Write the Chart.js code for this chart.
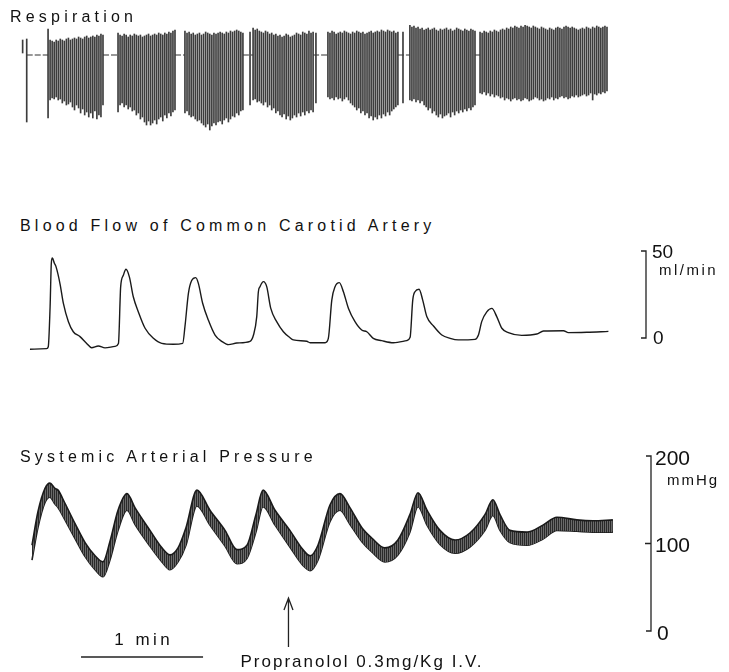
<!DOCTYPE html>
<html>
<head>
<meta charset="utf-8">
<script src="https://cdn.jsdelivr.net/npm/chart.js@4.4.0/dist/chart.umd.min.js"></script>
<style>
  body { margin: 0; background: #fff; }
  #page { position: relative; width: 729px; height: 672px; overflow: hidden;
          font-family: "Liberation Sans", Arial, sans-serif; color: #111; }
  canvas { position: absolute; left: 0; }
  .ttl { position: absolute; font-size: 16px; line-height: 16px; letter-spacing: 4.2px; white-space: nowrap; }
</style>
</head>
<body>
<div id="page">
  <canvas id="resp" width="729" height="140" style="top:0px"></canvas>
  <canvas id="flow" width="729" height="120" style="top:240px"></canvas>
  <canvas id="press" width="729" height="232" style="top:440px"></canvas>
  <div class="ttl" style="left:10px;top:9px">Respiration</div>
  <div class="ttl" style="left:20px;top:218px">Blood Flow of Common Carotid Artery</div>
  <div class="ttl" style="left:20px;top:449px">Systemic Arterial Pressure</div>
</div>
<script>
// time axis in seconds, whole record ~ 5 min
var timeMax = 295

// respiration: bursts of breaths, each stroke [top, bottom] in chart deflection units (0 = baseline)
var respStart = [13.8, 48.2, 81.1, 114.6, 151.4, 191.7, 226.2]
var respEnd   = [40.8, 76.2, 109.6, 144.1, 185.8, 223.7, 288.6]
var respTops = [
  [26,15,14,13,15,14,16,15,14,16,17,15,16,17,16,18,17,16,18,19,17,18,19,18,20,19,21,20],
  [22,20,19,21,20,18,20,19,21,20,19,20,18,19,20,21,19,20,21,20,22,21,20,22,21,23,22,24,25],
  [24,22,23,21,22,20,21,22,20,21,23,22,21,20,22,21,22,23,22,21,23,22,24,23,24,25,24,23,22],
  [27,25,26,24,23,22,24,23,21,22,20,21,19,20,18,19,21,20,18,19,20,22,21,20,23,22,21,24,22,23],
  [23,22,24,23,21,22,23,22,24,23,22,21,23,22,24,23,22,23,21,22,23,24,22,23,24,23,25,24,23,25,24,23,24,22,23],
  [30,28,29,27,28,26,27,25,26,27,25,26,27,25,24,26,25,26,27,25,26,24,25,27,26,25,24,26,25,24,26,25,24],
  [23,22,24,23,22,24,23,25,24,23,25,26,25,27,26,28,27,29,28,27,29,28,30,29,28,27,29,28,27,26,28,27,26,25,27,26,25,27,28,27,26,28,29,28,27,28,27,26,25,26,27,26,28,27,26,28,27,29,28,27,28,29,28]
]
var respBottoms = [
  [-63,-45,-43,-44,-42,-45,-44,-48,-46,-50,-49,-47,-52,-55,-50,-53,-58,-54,-60,-57,-62,-58,-63,-56,-64,-60,-62,-50],
  [-57,-50,-48,-52,-50,-54,-52,-56,-55,-60,-58,-64,-62,-67,-70,-66,-70,-68,-65,-69,-64,-62,-66,-60,-63,-58,-61,-57,-55],
  [-58,-56,-60,-62,-61,-64,-66,-65,-68,-70,-72,-69,-75,-71,-68,-70,-67,-66,-69,-65,-63,-67,-64,-61,-62,-58,-60,-56,-55],
  [-45,-44,-47,-46,-48,-50,-47,-52,-50,-55,-53,-58,-56,-60,-62,-59,-64,-61,-65,-63,-60,-62,-58,-61,-57,-60,-56,-58,-55,-57],
  [-42,-44,-43,-45,-42,-44,-43,-46,-44,-42,-45,-48,-50,-52,-55,-53,-58,-56,-60,-58,-63,-61,-65,-62,-64,-60,-63,-59,-61,-57,-60,-56,-54,-52,-50],
  [-45,-46,-44,-47,-45,-48,-46,-50,-52,-55,-53,-58,-56,-60,-62,-59,-63,-61,-60,-58,-62,-57,-60,-56,-58,-55,-57,-54,-56,-53,-55,-52,-50],
  [-38,-39,-37,-40,-38,-41,-39,-42,-40,-41,-43,-42,-45,-43,-44,-46,-44,-43,-45,-44,-46,-45,-43,-44,-46,-45,-44,-42,-43,-45,-44,-46,-45,-43,-44,-42,-45,-43,-44,-42,-41,-43,-42,-44,-43,-41,-42,-40,-42,-41,-40,-39,-41,-40,-38,-45,-39,-40,-38,-39,-37,-38,-36]
]
// isolated breaths between bursts: [time, top, bottom]
var respSingles = [[1.3, 15, 2], [3.3, 16, -67], [113.1, 23, -50], [145.5, 22, -48], [188.3, 23, -48]]

// carotid blood flow, ml/min
var flowTime = [4.9,13.1,13.9,14.8,15.4,15.9,16.9,17.7,19.7,21.3,23.8,26.2,29.5,32.8,35.2,38.5,41.8,46.7,
  48.4,49.5,50.8,52.1,53.8,55.7,58.2,61.5,65.6,69.7,75.4,80.0,81.1,82.8,84.4,86.4,87.7,89.8,92.6,95.9,
  99.2,102.5,106.6,113.1,114.8,116.4,117.2,118.0,119.7,121.3,123.3,126.2,129.5,132.5,134.4,141.0,142.6,
  150.0,151.6,153.3,154.9,157.0,159.0,161.5,164.7,168.0,170.5,173.7,177.8,183.6,190.1,191.8,193.1,194.2,
  196.2,198.0,200.0,203.3,207.4,211.5,215.5,223.7,225.4,227.0,229.5,232.0,234.4,236.9,240.1,246.7,254.1,
  257.4,267.2,269.6,278.7,289.3]
var flowValue = [-6.5,-6.1,-5,18,43,46,43,41,31,20,9.4,3.6,0.8,-3.1,-5.6,-4.6,-5.7,-4.8,
  -3.1,29.5,36,39.5,35,23.7,15,5.6,-0.2,-3.1,-3.6,-3.1,6.5,25.7,33,34.7,31.4,20,10.3,1.7,
  -1.9,-3.8,-2.9,-1.9,1.7,12.3,26.6,29.5,32.4,29.5,17,9.4,3.6,0.4,-1.1,-1.9,-2.7,
  -2.7,-0.2,21.8,29.5,31.8,26.6,17,9.4,4.6,3.6,-0.2,-1.5,-2.7,-1.5,0.4,21.8,26.6,
  28,21.8,12.3,6.9,1.7,-0.2,-1.1,-0.8,1.7,9.4,15,17,12.3,5.6,3.1,1.5,2.3,
  4,4.2,3.1,3.3,3.8]

// systemic arterial pressure band, mmHg (upper and lower edge of trace)
var pressTime = [5.9,8.8,12.3,14.7,17.2,18.7,22.1,27.0,32.0,36.9,40.8,44.2,48.2,52.6,56.5,63.9,69.8,73.7,77.7,81.6,
  87.0,93.4,100.8,106.7,111.6,116.0,119.5,125.4,132.7,139.1,142.6,146.5,152.4,157.3,162.2,168.1,173.1,179.4,185.8,191.7,
  195.7,200.1,206.5,213.9,221.2,228.6,232.5,236.0,240.9,249.3,257.1,264.0,273.8,281.7,291.5]
var pressHigh = [98,136,163,169,163,161,146,123,101,86,79,102,138,157,141,115,95,87,95,118,
  161,138,115,93,98,133,161,138,115,93,86,98,144,157,141,118,106,95,104,133,
  158,138,115,104,112,133,150,133,115,113,121,130,127,126,127]
var pressLow = [81,118,147,153,145,141,127,106,85,70,62,81,115,138,122,97,79,70,79,98,
  143,121,97,77,83,113,142,121,96,75,69,81,125,138,122,102,90,79,87,113,
  142,121,99,89,96,115,132,115,101,98,105,115,114,113,113]

// calibration bars and markers
var flowCal = [0, 50]
var pressCal = [0, 100, 200]
var minuteBar = [30, 90]
var drugAt = 132

var FONT = '"Liberation Sans", Arial, sans-serif'

// build respiration strokes
var strokes = []
respStart.forEach(function(st, s){
  var n = respTops[s].length
  var step = (respEnd[s] - st) / (n - 1)
  for (var i = 0; i < n; i++) {
    strokes.push({x: st + i * step, y: [respBottoms[s][i], respTops[s][i]]})
  }
})
respSingles.forEach(function(r){ strokes.push({x: r[0], y: [r[2], r[1]]}) })

// baseline only visible in the pauses between bursts
var baseline = [{x: respSingles[1][0], y: 0}, {x: respStart[0], y: 0}]
for (var s = 1; s < respStart.length; s++) {
  baseline.push({x: (respEnd[s - 1] + respStart[s]) / 2, y: null})
  baseline.push({x: respEnd[s - 1], y: 0}, {x: respStart[s], y: 0})
}

function opts(ymin, ymax, padTop, padBottom) {
  return {
    responsive: false,
    animation: false,
    devicePixelRatio: 1,
    events: [],
    layout: { padding: { left: 20, right: 109, top: padTop, bottom: padBottom } },
    plugins: { legend: { display: false }, tooltip: { enabled: false } },
    scales: {
      x: { type: 'linear', min: 0, max: timeMax, display: false, offset: false },
      y: { type: 'linear', min: ymin, max: ymax, display: false }
    }
  }
}

// bracket scale bar on the right, drawn from the y scale
var calibPlugin = {
  id: 'calib',
  afterDraw: function(chart, args, o) {
    if (!o || !o.labels) return
    var ctx = chart.ctx, y = chart.scales.y, x = o.x
    var top = y.getPixelForValue(o.values[o.values.length - 1])
    var bot = y.getPixelForValue(o.values[0])
    ctx.save()
    ctx.strokeStyle = '#222'
    ctx.lineWidth = 1.3
    ctx.beginPath()
    ctx.moveTo(x - 5, top); ctx.lineTo(x, top); ctx.lineTo(x, bot); ctx.lineTo(x - 5, bot)
    o.values.slice(1, -1).forEach(function(v){
      var p = y.getPixelForValue(v); ctx.moveTo(x - 6, p); ctx.lineTo(x, p)
    })
    ctx.stroke()
    ctx.fillStyle = '#111'
    o.labels.forEach(function(l){
      ctx.font = l.size + 'px ' + FONT
      ctx.letterSpacing = (l.sp || 0) + 'px'
      ctx.fillText(l.text, x + l.dx, y.getPixelForValue(l.value) + l.dy)
    })
    ctx.restore()
  }
}

// 1 min bar and drug arrow, drawn from the x scale
var markerPlugin = {
  id: 'markers',
  afterDraw: function(chart, args, o) {
    if (!o || o.arrowAt == null) return
    var ctx = chart.ctx, xs = chart.scales.x, b = chart.chartArea.bottom
    ctx.save()
    ctx.strokeStyle = '#222'
    ctx.fillStyle = '#111'
    ctx.lineWidth = 1.5
    var x0 = xs.getPixelForValue(o.bar[0]), x1 = xs.getPixelForValue(o.bar[1])
    ctx.beginPath(); ctx.moveTo(x0, b + 26); ctx.lineTo(x1, b + 26); ctx.stroke()
    ctx.font = '17px ' + FONT
    ctx.letterSpacing = '3.5px'
    var w = ctx.measureText(o.barLabel).width - 3.5
    ctx.fillText(o.barLabel, (x0 + x1) / 2 - w / 2, b + 14)
    var xa = xs.getPixelForValue(o.arrowAt)
    ctx.lineWidth = 1.3
    ctx.beginPath()
    ctx.moveTo(xa, b + 16); ctx.lineTo(xa, b - 33)
    ctx.moveTo(xa - 4.5, b - 21); ctx.lineTo(xa, b - 33); ctx.lineTo(xa + 4.5, b - 21)
    ctx.stroke()
    ctx.letterSpacing = '2px'
    ctx.fillText(o.arrowLabel, xa - 48, b + 36)
    ctx.restore()
  }
}

// respiration
var o1 = opts(-80, 30, 25, 5)
new Chart(document.getElementById('resp'), {
  type: 'bar',
  data: {
    datasets: [
      { type: 'bar', data: strokes, backgroundColor: '#3c3c3c', borderWidth: 0,
        barThickness: 1, grouped: false, order: 1 },
      { type: 'line', data: baseline, borderColor: '#333', spanGaps: false,
        borderWidth: 1.2, borderDash: [6, 2], pointRadius: 0, order: 2 }
    ]
  },
  options: o1
})

// blood flow
var o2 = opts(flowCal[0], flowCal[1], 11, 22)
o2.plugins.calib = {
  x: 646, values: flowCal,
  labels: [
    {text: '50', value: 50, dx: 6, dy: 7, size: 19},
    {text: 'ml/min', value: 50, dx: 13, dy: 24, size: 15, sp: 2.5},
    {text: '0', value: 0, dx: 7, dy: 6, size: 19}
  ]
}
new Chart(document.getElementById('flow'), {
  type: 'line',
  data: {
    datasets: [{
      data: flowTime.map(function(t, i){ return {x: t, y: flowValue[i]} }),
      borderColor: '#1a1a1a', borderWidth: 1.4, pointRadius: 0,
      cubicInterpolationMode: 'monotone', clip: false
    }]
  },
  options: o2,
  plugins: [calibPlugin]
})

// pressure
var pc = document.createElement('canvas')
pc.width = 2; pc.height = 3
var pctx = pc.getContext('2d')
pctx.fillStyle = '#6a6a6a'; pctx.fillRect(0, 0, 2, 3)
pctx.fillStyle = '#2a2a2a'; pctx.fillRect(0, 0, 1, 3)
var hatch = document.getElementById('press').getContext('2d').createPattern(pc, 'repeat')

var o3 = opts(pressCal[0], pressCal[2], 16, 41)
o3.plugins.calib = {
  x: 651, values: pressCal,
  labels: [
    {text: '200', value: 200, dx: 4, dy: 9, size: 21},
    {text: 'mmHg', value: 200, dx: 16, dy: 29, size: 15, sp: 2},
    {text: '100', value: 100, dx: 4, dy: 8.5, size: 21},
    {text: '0', value: 0, dx: 6, dy: 9, size: 21}
  ]
}
o3.plugins.markers = { bar: minuteBar, barLabel: '1 min', arrowAt: drugAt,
  arrowLabel: 'Propranolol 0.3mg/Kg I.V.' }
new Chart(document.getElementById('press'), {
  type: 'line',
  data: {
    datasets: [
      { data: pressTime.map(function(t, i){ return {x: t, y: pressHigh[i]} }),
        borderColor: '#1a1a1a', borderWidth: 1.6, pointRadius: 0,
        cubicInterpolationMode: 'monotone', fill: '+1', backgroundColor: hatch },
      { data: pressTime.map(function(t, i){ return {x: t, y: pressLow[i]} }),
        borderColor: '#1a1a1a', borderWidth: 1.6, pointRadius: 0,
        cubicInterpolationMode: 'monotone', fill: false }
    ]
  },
  options: o3,
  plugins: [calibPlugin, markerPlugin]
})
</script>
</body>
</html>
